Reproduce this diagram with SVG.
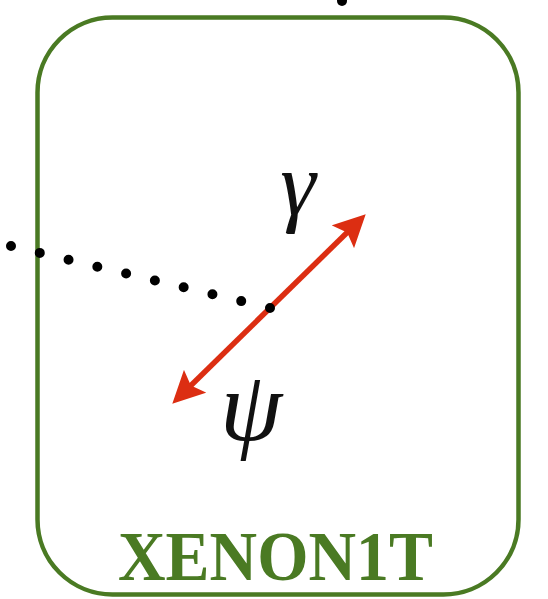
<svg xmlns="http://www.w3.org/2000/svg" width="548" height="599" viewBox="0 0 548 599">
  <style>
    .box { fill: none; stroke: #4a7a23; stroke-width: 4.5; }
    .label { font-family: "Liberation Serif", "Times New Roman", serif; font-style: italic; fill: #111; }
    .title { font-family: "Liberation Serif", "Times New Roman", serif; font-weight: bold; fill: #4a7a23; }
    .dots { fill: none; stroke: #000; stroke-width: 10; stroke-linecap: round; stroke-dasharray: 0 29.59; }
    .photon { fill: none; stroke: #dc2e12; stroke-width: 5.5; }
    .dot { fill: #000; }
  </style>
  <defs>
    <marker id="head" markerUnits="userSpaceOnUse" viewBox="0 0 32 32" refX="11" refY="16" markerWidth="32" markerHeight="32" orient="auto-start-reverse">
      <path d="M0,0 L32,16 L0,32 L6,16 z" fill="#dc2e12"/>
    </marker>
  </defs>
  <g id="detector">
    <rect class="box" x="37.5" y="17.5" width="481" height="577" rx="75" ry="75"/>
    <text class="title" x="118" y="580" font-size="70" textLength="315" lengthAdjust="spacingAndGlyphs">XENON1T</text>
  </g>
  <g id="connectors">
    <line class="photon" x1="187.3" y1="389" x2="350.7" y2="229" marker-start="url(#head)" marker-end="url(#head)"/>
    <path class="dots" d="M11,246 L270,308"/>
    <circle class="dot" cx="342" cy="1" r="5"/>
  </g>
  <g id="gamma">
    <text class="label" x="298" y="215" font-size="90" text-anchor="middle">γ</text>
  </g>
  <g id="psi">
    <text class="label" x="251" y="440" font-size="100" text-anchor="middle">ψ</text>
  </g>
</svg>
